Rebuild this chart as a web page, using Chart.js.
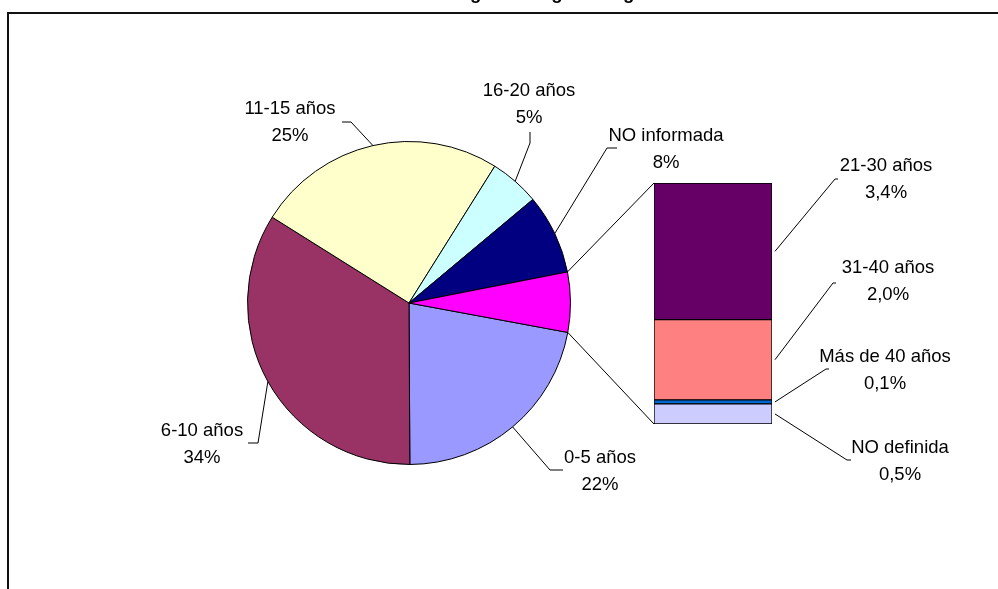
<!DOCTYPE html>
<html>
<head>
<meta charset="utf-8">
<title>Antigüedad</title>
<script src="https://cdn.jsdelivr.net/npm/chart.js@4/dist/chart.umd.min.js"></script>
<style>
  body { margin: 0; background: #fff; }
  #wrap { position: relative; width: 998px; height: 589px; overflow: hidden; background: #fff; }
  #wrap canvas { position: absolute; left: 0; top: 0; }
  #frame { position: absolute; left: 7px; top: 12px; width: 1100px; height: 700px;
           border-left: 2px solid #111; border-top: 2px solid #111; }
</style>
</head>
<body>
<div id="wrap">
  <div id="frame"></div>
  <canvas id="pieChart" width="998" height="589"></canvas>
  <canvas id="barChart" width="998" height="589"></canvas>
</div>
<script>
// datos
var chartTitle = 'Cohorte del Programa según antigüedad';

var pieLabels = ['0-5 años', '6-10 años', '11-15 años', '16-20 años', 'NO informada', 'Otros'];
var pieValues = [22, 34, 25, 5, 8];
var pieColors = ['#9999FF', '#993366', '#FFFFCC', '#CCFFFF', '#000080', '#FF00FF'];

// desglose de "Otros" (de abajo hacia arriba)
var barLabels = ['NO definida', 'Más de 40 años', '31-40 años', '21-30 años'];
var barValues = [0.5, 0.1, 2.0, 3.4];
var barColors = ['#CCCCFF', '#0066CC', '#FF8080', '#660066'];

var otherTotal = Math.round(barValues.reduce(function(a, b) { return a + b; }, 0) * 10) / 10;
var pieData = pieValues.concat([otherTotal]);

var font = '18.5px "Liberation Sans", Arial, sans-serif';
var lineGap = 26.5;

// posicion de textos y guias: texto (x, y), codo (ex, ey), final (tx, ty)
var pieLabelPos = [
  { x: 600, y: 458, ex: 550, ey: 470, tx: 563, ty: 470 },
  { x: 202, y: 431, ex: 258, ey: 443, tx: 248, ty: 443 },
  { x: 290, y: 109, ex: 351, ey: 122, tx: 342, ty: 122 },
  { x: 529, y: 91,  ex: 530, ey: 143, tx: 530, ty: 132 },
  { x: 666, y: 136, ex: 607, ey: 148, tx: 617, ty: 148 },
  null
];
var barLabelPos = [
  { x: 900, y: 448, ex: 847, ey: 460, tx: 851, ty: 460 },
  { x: 885, y: 357, ex: 826, ey: 369, tx: 829, ty: 369 },
  { x: 888, y: 268, ex: 833, ey: 283, tx: 836, ty: 283 },
  { x: 886, y: 166, ex: 835, ey: 179, tx: 838, ty: 179 }
];

function fmtPct(v) {
  return v.toFixed(1).replace('.', ',') + '%';
}

function leader(ctx, sx, sy, p) {
  ctx.beginPath();
  ctx.moveTo(sx, sy);
  ctx.lineTo(p.ex, p.ey);
  ctx.lineTo(p.tx, p.ty);
  ctx.stroke();
}

var pieLabelPlugin = {
  id: 'pieLabels',
  afterDraw: function(chart) {
    var ctx = chart.ctx;
    var arcs = chart.getDatasetMeta(0).data;
    ctx.save();
    ctx.strokeStyle = '#000';
    ctx.fillStyle = '#000';
    ctx.lineWidth = 1;
    ctx.font = font;
    ctx.textAlign = 'center';
    ctx.textBaseline = 'middle';

    pieLabelPos.forEach(function(p, i) {
      if (!p) return;
      var a = arcs[i];
      var mid = (a.startAngle + a.endAngle) / 2;
      leader(ctx, a.x + Math.cos(mid) * a.outerRadius, a.y + Math.sin(mid) * a.outerRadius, p);
      ctx.fillText(pieLabels[i], p.x, p.y);
      ctx.fillText(pieData[i] + '%', p.x, p.y + lineGap);
    });

    // titulo, queda cortado arriba
    ctx.font = 'bold 18.5px "Liberation Sans", Arial, sans-serif';
    ctx.textBaseline = 'alphabetic';
    ctx.fillText(chartTitle, 510, -1);
    ctx.restore();
  }
};

var pieChart = new Chart('pieChart', {
  type: 'pie',
  data: {
    labels: pieLabels,
    datasets: [{
      data: pieData,
      backgroundColor: pieColors,
      borderColor: '#000',
      borderWidth: 1
    }]
  },
  options: {
    responsive: false,
    animation: false,
    rotation: 100.5,
    layout: { padding: { left: 247, right: 427, top: 141, bottom: 124 } },
    plugins: {
      legend: { display: false },
      tooltip: { enabled: false }
    }
  },
  plugins: [pieLabelPlugin]
});

var barLabelPlugin = {
  id: 'barLabels',
  afterDraw: function(chart) {
    var ctx = chart.ctx;
    ctx.save();
    ctx.strokeStyle = '#000';
    ctx.fillStyle = '#000';
    ctx.lineWidth = 1;
    ctx.font = font;
    ctx.textAlign = 'center';
    ctx.textBaseline = 'middle';

    var first = chart.getDatasetMeta(0).data[0];
    var last = chart.getDatasetMeta(barValues.length - 1).data[0];
    var left = first.x - first.width / 2;
    var right = first.x + first.width / 2;

    // lineas que unen la porcion "Otros" con la barra
    var arc = pieChart.getDatasetMeta(0).data[pieData.length - 1];
    ctx.beginPath();
    ctx.moveTo(arc.x + Math.cos(arc.startAngle) * arc.outerRadius, arc.y + Math.sin(arc.startAngle) * arc.outerRadius);
    ctx.lineTo(left, last.y);
    ctx.moveTo(arc.x + Math.cos(arc.endAngle) * arc.outerRadius, arc.y + Math.sin(arc.endAngle) * arc.outerRadius);
    ctx.lineTo(left, first.base);
    ctx.stroke();

    barLabelPos.forEach(function(p, i) {
      var bar = chart.getDatasetMeta(i).data[0];
      leader(ctx, right + 3, (bar.y + bar.base) / 2, p);
      ctx.fillText(barLabels[i], p.x, p.y);
      ctx.fillText(fmtPct(barValues[i]), p.x, p.y + lineGap);
    });
    ctx.restore();
  }
};

var barChart = new Chart('barChart', {
  type: 'bar',
  data: {
    labels: [''],
    datasets: barLabels.map(function(l, i) {
      return {
        label: l,
        data: [barValues[i]],
        backgroundColor: barColors[i],
        borderColor: '#000',
        borderWidth: 1,
        borderSkipped: false,
        barPercentage: 1,
        categoryPercentage: 1
      };
    })
  },
  options: {
    responsive: false,
    animation: false,
    layout: { padding: { left: 654, right: 226, top: 183, bottom: 165 } },
    scales: {
      x: { stacked: true, display: false },
      y: { stacked: true, display: false, min: 0, max: otherTotal }
    },
    plugins: {
      legend: { display: false },
      tooltip: { enabled: false }
    }
  },
  plugins: [barLabelPlugin]
});
</script>
</body>
</html>
